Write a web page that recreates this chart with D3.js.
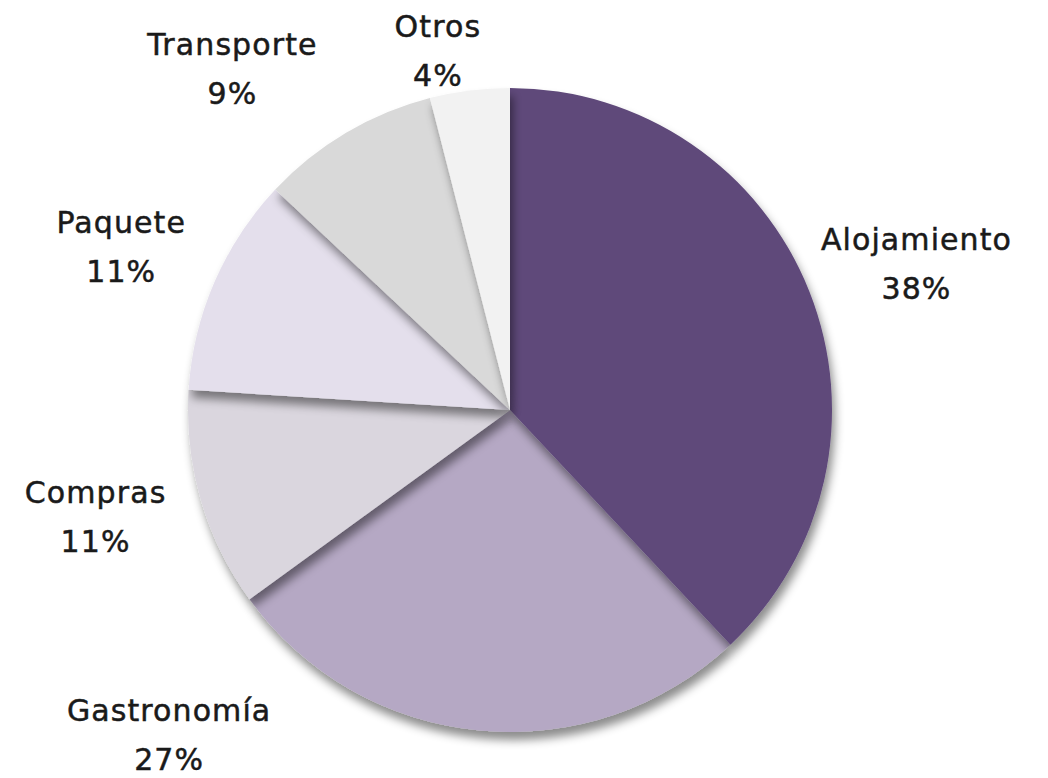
<!DOCTYPE html>
<html><head><meta charset="utf-8">
<script src="https://cdn.jsdelivr.net/npm/d3@7/dist/d3.min.js"></script>
<style>body{margin:0;background:#fff}svg{display:block}</style>
</head><body>
<svg id="c" width="1048" height="778"></svg>
<script>
const categories = ["Alojamiento","Gastronomía","Compras","Paquete","Transporte","Otros"];
const values = [38, 27, 11, 11, 9, 4];
const colors = ["#5f497a","#b5a8c4","#dad6de","#e4dfec","#d9d9d9","#f2f2f2"];
// layout: draw order and label nudges (from label-arc centroid)
const drawOrder = [1,2,0,3,4,5];
const labelNudge = [[42,-16],[-304,-79],[-38,-16],[-29,-21],[-78,-18],[-23,16]];

const W=1048,H=778,cx=510,cy=410,R=322;
const svg=d3.select("#c");
const defs=svg.append("defs");
const f=defs.append("filter").attr("id","sh").attr("x","-20%").attr("y","-20%").attr("width","150%").attr("height","150%");
f.append("feDropShadow").attr("dx",3).attr("dy",8).attr("stdDeviation",5).attr("flood-color","#000").attr("flood-opacity",0.45);

const data=categories.map((c,i)=>({name:c,value:values[i],color:colors[i],i}));
const pie=d3.pie().value(d=>d.value).sort(null);
const arcs=pie(data);
const arc=d3.arc().innerRadius(0).outerRadius(R);
const g=svg.append("g").attr("transform",`translate(${cx},${cy})`);
drawOrder.forEach(k=>{
  const a=arcs[k];
  g.append("path").attr("d",arc(a)).attr("fill",a.data.color).attr("filter","url(#sh)");
});
const labelArc=d3.arc().innerRadius(R+70).outerRadius(R+70);
const lg=svg.append("g").attr("transform",`translate(${cx},${cy})`)
  .attr("font-family","DejaVu Sans, sans-serif").attr("font-size",30).attr("fill","#1a1a1a")
  .attr("stroke","#1a1a1a").attr("stroke-width",0.5)
  .attr("letter-spacing","1.1px").attr("text-anchor","middle");
arcs.forEach((a,k)=>{
  const [x,y]=labelArc.centroid(a);
  const lx=x+labelNudge[k][0], ly=y+labelNudge[k][1];
  const t=lg.append("text").attr("x",lx).attr("y",ly);
  t.append("tspan").attr("x",lx).attr("dy",0).text(a.data.name);
  t.append("tspan").attr("x",lx).attr("dy",49).text(a.data.value+"%");
});
</script>
</body></html>
